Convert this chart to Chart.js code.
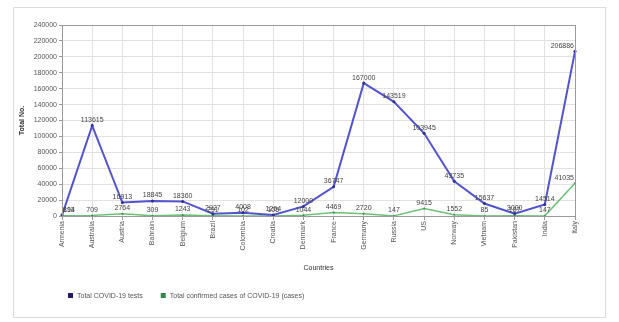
<!DOCTYPE html>
<html>
<head>
<meta charset="utf-8">
<script src="https://cdn.jsdelivr.net/npm/chart.js@4"></script>
<style>
    html, body { margin: 0; padding: 0; background: #fff; }
    #wrap { position: relative; width: 619px; height: 322px; }
    #frame { position: absolute; left: 13px; top: 7px; width: 593px; height: 311px; border: 1px solid #dcdcdc; box-sizing: border-box; }
    canvas { position: absolute; left: 0; top: 0; }
</style>
</head>
<body>
<div id="wrap">
    <div id="frame"></div>
    <canvas id="chart1" width="619" height="322"></canvas>
</div>
<script>
const countries = [
    'Armenia', 'Australia', 'Austria', 'Bahrain', 'Belgium', 'Brazil',
    'Colombia', 'Croatia', 'Denmark', 'France', 'Germany', 'Russia',
    'US', 'Norway', 'Vietnam', 'Pakistan', 'India', 'Italy',
];
const totalTests = [
    813, 113615, 16913, 18845, 18360, 2927,
    4008, 1264, 12000, 36747, 167000, 143519,
    103945, 43735, 15637, 3000, 14514, 206886,
];
const totalCases = [
    194, 709, 2764, 309, 1243, 291,
    102, 105, 1044, 4469, 2720, 147,
    9415, 1552, 85, 187, 147, 41035,
];
const yTicks = { min: 0, max: 240000, step: 20000 };

const FONT = '"Liberation Sans", Arial, sans-serif';

// value text above every point, kept inside the plot box
const valueLabels = {
    id: 'valueLabels',
    afterDatasetsDraw(chart) {
        const ctx = chart.ctx;
        const area = chart.chartArea;
        ctx.save();
        ctx.font = '7px ' + FONT;
        ctx.fillStyle = '#444';
        ctx.textBaseline = 'bottom';
        chart.data.datasets.forEach((ds, i) => {
            chart.getDatasetMeta(i).data.forEach((pt, j) => {
                const txt = String(ds.data[j]);
                const w = ctx.measureText(txt).width;
                let x = pt.x - w / 2;
                if (x < area.left + 1) x = area.left + 1;
                if (x + w > area.right - 1) x = area.right - 1 - w;
                ctx.fillText(txt, x, pt.y - 2);
            });
        });
        ctx.restore();
    }
};

// outline round the plot box
const areaBorder = {
    id: 'areaBorder',
    afterDraw(chart) {
        const { left, top, width, height } = chart.chartArea;
        const ctx = chart.ctx;
        ctx.save();
        ctx.strokeStyle = '#9a9a9a';
        ctx.lineWidth = 1;
        ctx.strokeRect(left + 0.5, top + 0.5, width, height);
        ctx.restore();
    }
};

// legend row under the axis title
const bottomLegend = {
    id: 'bottomLegend',
    afterDraw(chart) {
        const ctx = chart.ctx;
        const y = 296;
        let x = 68;
        ctx.save();
        ctx.font = '7px ' + FONT;
        ctx.textBaseline = 'middle';
        chart.data.datasets.forEach(ds => {
            ctx.fillStyle = ds.legendColor;
            ctx.fillRect(x, y - 3, 5, 5);
            ctx.fillStyle = '#555';
            ctx.fillText(ds.label, x + 9, y);
            x += 9 + ctx.measureText(ds.label).width + 18;
        });
        ctx.restore();
    }
};

const data = {
    labels: countries,
    datasets: [{
        label: 'Total COVID-19 tests',
        data: totalTests,
        borderColor: 'rgb(84,84,204)',
        backgroundColor: 'rgb(50,50,140)',
        legendColor: 'rgb(30,30,100)',
        borderWidth: 2,
        pointRadius: 1.5,
        pointBorderWidth: 0,
        tension: 0,
    }, {
        label: 'Total confirmed cases of COVID-19 (cases)',
        data: totalCases,
        borderColor: 'rgb(110,190,120)',
        backgroundColor: 'rgb(60,140,80)',
        legendColor: 'rgb(55,135,75)',
        borderWidth: 1.5,
        pointRadius: 1,
        pointBorderWidth: 0,
        tension: 0,
    }]
};

const config = {
    type: 'line',
    data,
    plugins: [valueLabels, areaBorder, bottomLegend],
    options: {
        responsive: false,
        animation: false,
        layout: { padding: { left: 0, right: 44, top: 25, bottom: 48 } },
        plugins: {
            legend: { display: false },
            tooltip: { enabled: false },
        },
        scales: {
            x: {
                grid: { color: '#e2e2e2', tickLength: 4, tickColor: '#999' },
                border: { color: '#9a9a9a' },
                ticks: {
                    minRotation: 90,
                    maxRotation: 90,
                    autoSkip: false,
                    padding: 1,
                    color: '#555',
                    font: { family: FONT, size: 7 },
                },
                title: {
                    display: true,
                    text: 'Countries',
                    color: '#333',
                    font: { family: FONT, size: 7 },
                    padding: { top: 0, bottom: 2 },
                },
                afterFit(scale) { scale.height = 58; },
            },
            y: {
                min: yTicks.min,
                max: yTicks.max,
                grid: { color: '#e2e2e2', tickLength: 3, tickColor: '#999' },
                border: { color: '#9a9a9a' },
                ticks: {
                    stepSize: yTicks.step,
                    padding: 2,
                    color: '#555',
                    font: { family: FONT, size: 7 },
                    callback: val => String(val),
                },
                title: {
                    display: true,
                    text: 'Total No.',
                    color: '#333',
                    font: { family: FONT, size: 7, weight: 'bold' },
                    padding: { top: 18, bottom: 0 },
                },
                afterFit(scale) { scale.width = 62; },
            },
        },
    }
};

let chart1 = new Chart(document.getElementById('chart1'), config);
</script>
</body>
</html>
